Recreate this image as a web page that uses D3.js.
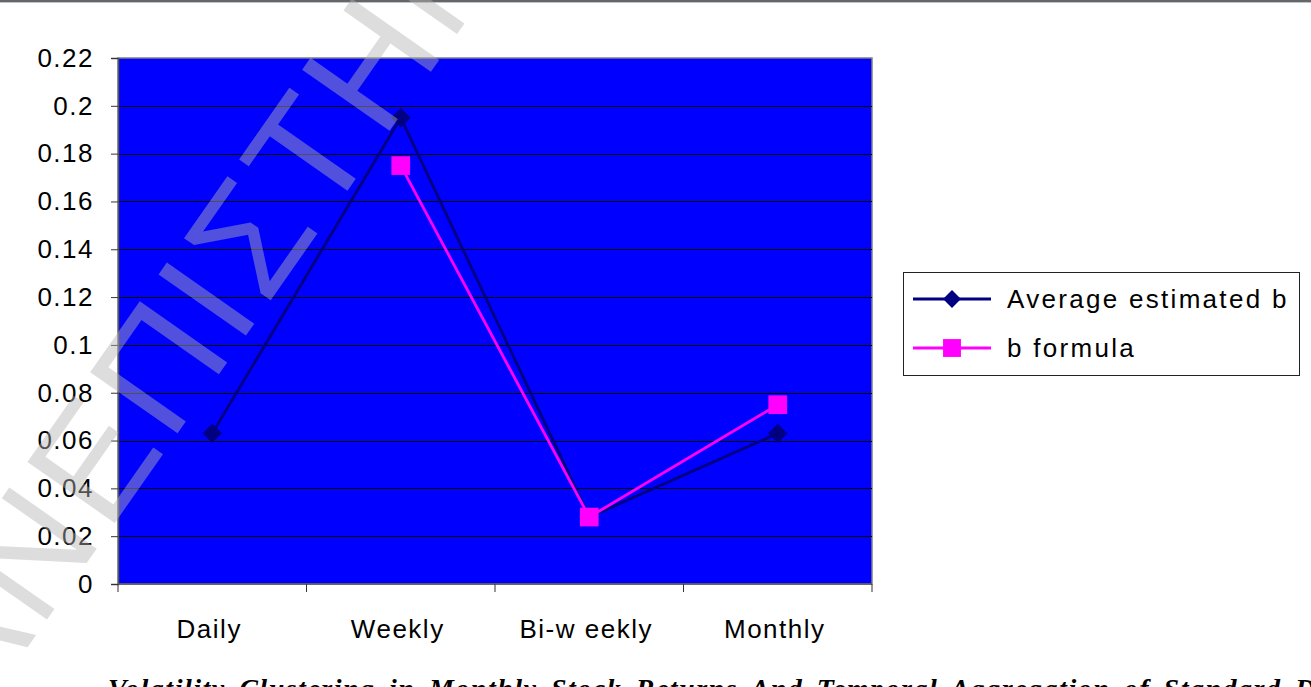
<!DOCTYPE html>
<html>
<head>
<meta charset="utf-8">
<script src="https://cdn.jsdelivr.net/npm/d3@7/dist/d3.min.js"></script>
<style>
  html, body { margin: 0; padding: 0; background: #fff; }
  svg { display: block; }
</style>
</head>
<body>
<svg id="chart" width="1311" height="687"></svg>
<script>
// Sampling frequencies on the x axis
const categories = ["Daily", "Weekly", "Bi-w eekly", "Monthly"];
// Average estimated b per frequency
const avgEstimatedB = [0.063, 0.195, 0.028, 0.063];
// b from the formula (no daily value)
const bFormula = [null, 0.175, 0.028, 0.075];
// Y axis tick labels
const yTicks = [0, 0.02, 0.04, 0.06, 0.08, 0.1, 0.12, 0.14, 0.16, 0.18, 0.2, 0.22];
const seriesNames = ["Average estimated b", "b formula"];
const caption = "Volatility Clustering in Monthly Stock Returns And Temporal Aggregation of Standard Deviations";
const watermark = "ΠΑΝΕΠΙΣΤΗΜΙΟ ΠΕΙΡΑΙΩΣ";

const svg = d3.select("#chart");
const W = 1311, H = 687;
const plot = { left: 118, top: 58, right: 872, bottom: 584 };
const FONT = "Arial, 'Liberation Sans', sans-serif";

const x = d3.scaleBand().domain(categories).range([plot.left, plot.right]).padding(0);
const y = d3.scaleLinear().domain([0, 0.22]).range([plot.bottom, plot.top]);

// page rule at the very top
svg.append("line").attr("x1", 0).attr("x2", W).attr("y1", 1).attr("y2", 1)
  .attr("stroke", "#333").attr("stroke-width", 1.5);
svg.append("line").attr("x1", 0).attr("x2", W).attr("y1", 2.5).attr("y2", 2.5)
  .attr("stroke", "#b9c6cc").attr("stroke-width", 1);

// plot area
svg.append("rect")
  .attr("x", plot.left).attr("y", plot.top)
  .attr("width", plot.right - plot.left).attr("height", plot.bottom - plot.top)
  .attr("fill", "#0000ff").attr("stroke", "#808080").attr("stroke-width", 1.5);

// horizontal gridlines
svg.append("g").selectAll("line")
  .data(yTicks.filter(t => t > 0 && t < 0.22))
  .join("line")
  .attr("x1", plot.left).attr("x2", plot.right)
  .attr("y1", d => Math.round(y(d)) + 0.5).attr("y2", d => Math.round(y(d)) + 0.5)
  .attr("stroke", "#000").attr("stroke-width", 1.2);

// y axis
const yAxis = d3.axisLeft(y).tickValues(yTicks).tickSize(7).tickPadding(17)
  .tickFormat(d => d3.format("")(+d.toFixed(2)));
const gy = svg.append("g").attr("transform", `translate(${plot.left},0)`).call(yAxis);
gy.select(".domain").attr("stroke", "#555").attr("stroke-width", 1.5);
gy.selectAll(".tick line").attr("stroke", "#333");
gy.selectAll(".tick text").attr("font-family", FONT)
  .attr("font-size", 26).attr("letter-spacing", 1.5).attr("fill", "#000");

// x axis with ticks at category boundaries
const gx = svg.append("g").attr("transform", `translate(0,${plot.bottom})`);
gx.append("line").attr("x1", plot.left).attr("x2", plot.right).attr("y1", 0).attr("y2", 0)
  .attr("stroke", "#555").attr("stroke-width", 1.5);
const bounds = categories.map(c => x(c)).concat([x(categories[categories.length - 1]) + x.bandwidth()]);
gx.selectAll("line.tk").data(bounds).join("line").attr("class", "tk")
  .attr("x1", d => d).attr("x2", d => d).attr("y1", 0).attr("y2", 8)
  .attr("stroke", "#333").attr("stroke-width", 1);
gx.selectAll("text").data(categories).join("text")
  .attr("x", d => x(d) + x.bandwidth() / 2 - 3).attr("y", 54)
  .attr("text-anchor", "middle")
  .attr("font-family", FONT).attr("font-size", 26).attr("letter-spacing", 1.5)
  .text(d => d);

const cx = d => x(d) + x.bandwidth() / 2;
const diamond = d3.symbol().type(d3.symbolSquare).size(190);
const square = d3.symbol().type(d3.symbolSquare).size(350);

function drawSeries(values, color, kind) {
  const pts = categories.map((c, i) => ({ c, v: values[i] })).filter(p => p.v !== null);
  const line = d3.line().x(p => cx(p.c)).y(p => y(p.v));
  svg.append("path").datum(pts).attr("d", line)
    .attr("fill", "none").attr("stroke", color).attr("stroke-width", 2.8);
  svg.append("g").selectAll("path").data(pts).join("path")
    .attr("d", kind === "diamond" ? diamond : square)
    .attr("transform", p => `translate(${cx(p.c)},${y(p.v)})` + (kind === "diamond" ? " rotate(45)" : ""))
    .attr("fill", color);
}
drawSeries(avgEstimatedB, "#000080", "diamond");
drawSeries(bFormula, "#ff00ff", "square");

// legend
const lg = svg.append("g");
lg.append("rect").attr("x", 903.5).attr("y", 272.5).attr("width", 396).attr("height", 103)
  .attr("fill", "#fff").attr("stroke", "#222").attr("stroke-width", 1);
const legendItems = [
  { name: seriesNames[0], color: "#000080", kind: "diamond", yy: 299 },
  { name: seriesNames[1], color: "#ff00ff", kind: "square", yy: 348 }
];
const legendDiamond = d3.symbol().type(d3.symbolSquare).size(160);
const legendSquare = d3.symbol().type(d3.symbolSquare).size(320);
legendItems.forEach(it => {
  lg.append("line").attr("x1", 913).attr("x2", 991).attr("y1", it.yy).attr("y2", it.yy)
    .attr("stroke", it.color).attr("stroke-width", 2.8);
  lg.append("path").attr("d", it.kind === "diamond" ? legendDiamond : legendSquare)
    .attr("transform", `translate(952,${it.yy})` + (it.kind === "diamond" ? " rotate(45)" : ""))
    .attr("fill", it.color);
  lg.append("text").attr("x", 1007).attr("y", it.yy + 9)
    .attr("font-family", FONT).attr("font-size", 26)
    .attr("letter-spacing", 2.3)
    .text(it.name);
});

// caption below the chart
svg.append("text").attr("x", 108).attr("y", 698)
  .attr("font-family", "'Liberation Serif', 'Times New Roman', serif")
  .attr("font-style", "italic").attr("font-weight", "bold")
  .attr("font-size", 28).attr("letter-spacing", 1.5).attr("word-spacing", 5)
  .text(caption);

// diagonal watermark
const angle = -55;
const wm = svg.append("text")
  .attr("font-family", FONT)
  .attr("font-size", 155).attr("letter-spacing", 6)
  .attr("fill", "#b4b4b4").attr("fill-opacity", 0.45)
  .text(watermark);
const node = wm.node();
const k = watermark.indexOf("Σ");
const off = node.getSubStringLength(0, k);
const ax = 266, ay = 307; // baseline start of the Σ glyph
const rad = angle * Math.PI / 180;
const ox = ax - off * Math.cos(rad), oy = ay - off * Math.sin(rad);
wm.attr("transform", `translate(${ox},${oy}) rotate(${angle})`);
</script>
</body>
</html>
